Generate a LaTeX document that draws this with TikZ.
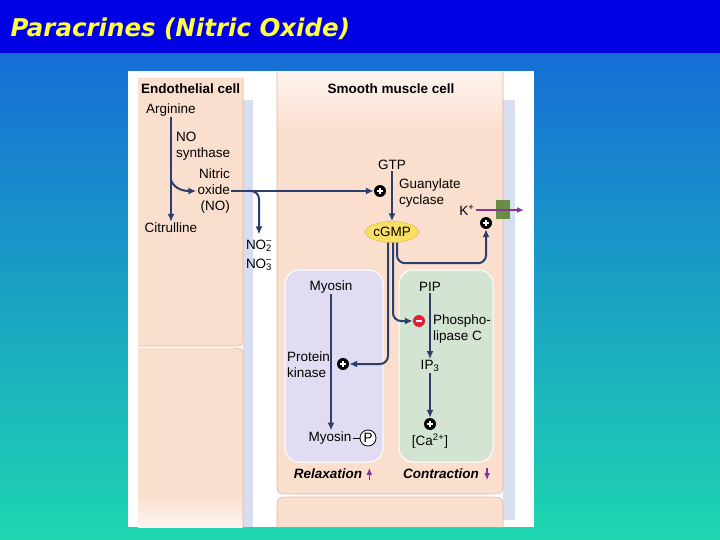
\documentclass[tikz,border=0pt]{standalone}
\usepackage{fontspec}
\setmainfont{Liberation Sans}
\newfontfamily\titlefont{DejaVu Sans}
\usetikzlibrary{arrows.meta, shapes.geometric}

\definecolor{slideblue}{RGB}{0,0,228}
\definecolor{titleyellow}{RGB}{255,255,64}
\definecolor{gradtop}{RGB}{22,110,214}
\definecolor{gradmid}{RGB}{30,190,230}
\definecolor{gradbot}{RGB}{30,214,176}
\definecolor{cellpeach}{RGB}{251,223,206}
\definecolor{cellline}{RGB}{226,182,160}
\definecolor{gapblue}{RGB}{214,222,240}
\definecolor{myosinbg}{RGB}{226,220,242}
\definecolor{plcbg}{RGB}{212,228,210}
\definecolor{pathnavy}{RGB}{44,62,108}
\definecolor{ionpurple}{RGB}{140,52,150}
\definecolor{channelgreen}{RGB}{104,142,70}
\definecolor{cgmpyellow}{RGB}{248,224,100}
\definecolor{cgmpedge}{RGB}{216,176,64}
\definecolor{inhibred}{RGB}{226,30,60}

\begin{document}
\begin{tikzpicture}[
        x=1pt, y=-1pt, >=Latex,
        lbl/.style={font=\fontsize{13.5}{16}\selectfont, inner sep=1pt, align=center},
        lblleft/.style={lbl, align=left, anchor=west},
        lblright/.style={lbl, align=right, anchor=east},
        celltitle/.style={lbl, font=\fontsize{13.5}{16}\selectfont\bfseries},
        effect/.style={lbl, font=\fontsize{13.5}{16}\selectfont\bfseries\itshape},
        signcirc/.style={circle, minimum size=12pt, inner sep=0pt},
        pluscirc/.style={signcirc, fill=black, path picture={
            \draw[white, line width=1.9pt]
                ([xshift=-3.2pt]path picture bounding box.center) -- ([xshift=3.2pt]path picture bounding box.center)
                ([yshift=-3.2pt]path picture bounding box.center) -- ([yshift=3.2pt]path picture bounding box.center);}},
        minuscirc/.style={signcirc, fill=inhibred, path picture={
            \draw[white, line width=1.9pt]
                ([xshift=-3.2pt]path picture bounding box.center) -- ([xshift=3.2pt]path picture bounding box.center);}},
        cellbody/.style={fill=cellpeach},
        celledge/.style={draw=cellline, line width=0.6pt},
        innerbox/.style={draw=white, line width=1pt, rounded corners=14pt},
        flow/.style={-{Latex[length=8pt, width=7pt]}, line width=2pt, draw=pathnavy, rounded corners=8pt},
        ionflow/.style={-{Latex[length=7pt, width=6pt]}, line width=1.5pt, draw=ionpurple}
    ]
        \useasboundingbox (0,0) rectangle (720,540);
        \fill[slideblue] (0,0) rectangle (720,54);
        \shade[top color=gradtop, middle color=gradmid, bottom color=gradbot] (0,54) rectangle (720,540);
        \fill[white] (128,71) rectangle (534,527);
        \fill[gapblue] (243,100) rectangle (253,527);
        \fill[gapblue] (503,100) rectangle (515,520);

        \fill[cellbody] (138,78) -- (243,78) -- (243,336) .. controls (243,346) .. (233,346) -- (138,346) -- cycle;
        \draw[celledge] (243,78) -- (243,336) .. controls (243,346) .. (233,346) -- (138,346);
        \fill[cellbody] (138,348) -- (233,348) .. controls (243,348) .. (243,358) -- (243,527) -- (138,527) -- cycle;
        \shade[top color=cellpeach, bottom color=cellpeach!30] (138,495) rectangle (242.7,527);
        \draw[celledge] (233,348) .. controls (243,348) .. (243,358) -- (243,527);
        \fill[cellbody] (277,72) -- (503,72) -- (503,480) .. controls (503,494) .. (489,494) -- (291,494) .. controls (277,494) .. (277,480) -- cycle;
        \shade[top color=cellpeach!35, bottom color=cellpeach] (277.3,72) rectangle (502.7,130);
        \draw[celledge] (277,72) -- (277,480) .. controls (277,494) .. (291,494) -- (489,494) .. controls (503,494) .. (503,480) -- (503,72);
        \filldraw[cellbody, celledge] (277,527) -- (277,511) .. controls (277,497) .. (291,497) -- (489,497) .. controls (503,497) .. (503,511) -- (503,527);

        \draw[innerbox, fill=myosinbg] (285,270) rectangle (383,462);
        \draw[innerbox, fill=plcbg] (399,270) rectangle (493,462);

        \node[anchor=base west, text=titleyellow, font=\titlefont\bfseries\itshape\fontsize{24.5}{28}\selectfont] (title) at (7,37) {Paracrines (Nitric Oxide)};

        \node[celltitle, anchor=west] (endotitle) at (140,89) {Endothelial cell};
        \node[celltitle] (smtitle) at (391,89) {Smooth muscle cell};

        \node[lbl] (arg) at (171,110) {Arginine};
        \node[lbl] (cit) at (171,228) {Citrulline};
        \node[lblleft] (nos) at (175,146) {NO\\synthase};
        \node[lblright] (no) at (231,191) {Nitric\\oxide\\(NO)};
        \node[lbl, font=\fontsize{13.5}{19}\selectfont] (nox) at (259,255) {NO\makebox[0pt][l]{\textsuperscript{--}}\textsubscript{2}\\NO\makebox[0pt][l]{\textsuperscript{--}}\textsubscript{3}};

        \node[lbl] (gtp) at (392,165) {GTP};
        \node[pluscirc] (gcplus) at (380,191) {};
        \node[lblleft] (gc) at (398,193) {Guanylate\\cyclase};
        \node[ellipse, draw=cgmpedge, fill=cgmpyellow, minimum width=46pt, minimum height=21pt, inner sep=0pt, font=\fontsize{13.5}{16}\selectfont] (cgmp) at (392,232) {cGMP};

        \node[fill=channelgreen, minimum width=14pt, minimum height=19pt, inner sep=0pt] (chan) at (503,210) {};
        \node[lbl] (kion) at (467,210) {K\textsuperscript{+}};
        \coordinate (kout) at (524,210);
        \node[pluscirc] (kplus) at (486,223) {};

        \node[lbl] (myo) at (331,287) {Myosin};
        \node[lblleft] (pk) at (286,365) {Protein\\kinase};
        \node[pluscirc] (pkplus) at (343,364) {};
        \node[lbl] (myop) at (330,438) {Myosin};
        \node[circle, draw=black, fill=white, line width=0.8pt, minimum size=16pt, inner sep=0pt, font=\fontsize{13.5}{16}\selectfont] (pcirc) at (368,438) {P};
        \node[effect] (relax) at (328,474) {Relaxation};

        \node[lbl] (pip) at (430,287) {PIP};
        \node[minuscirc] (plcminus) at (419,321) {};
        \node[lblleft] (plc) at (432,329) {Phospho-\\lipase C};
        \node[lbl] (ip3) at (430,366) {IP\textsubscript{3}};
        \node[pluscirc] (caplus) at (430,424) {};
        \node[lbl] (ca) at (430,441) {[Ca\textsuperscript{2+}]};
        \node[effect] (contr) at (441,474) {Contraction};

        \coordinate (nobranch) at (171,180);
        \coordinate (nosplit) at (248,191);

        \draw[flow] (arg) -- (cit);
        \draw[flow] (nobranch) to[out=-70, in=180] (no.west);
        \draw[flow] (no.east) -- (gcplus.west);
        \draw[flow] (nosplit) -| ([yshift=4pt]nox.north);
        \draw[flow] (gtp) -- (cgmp);
        \draw[flow] ([xshift=5pt]cgmp.south) |- ([yshift=-34pt]kplus.south) -- (kplus.south);
        \draw[flow] ([xshift=1pt]cgmp.south) |- (plcminus.west);
        \draw[flow] ([xshift=-4pt]cgmp.south) |- (pkplus.east);
        \draw[flow] (myo) -- (myo |- myop.north);
        \draw[line width=0.8pt] (myop.east) -- (pcirc.west);
        \draw[flow] (pip) -- (ip3);
        \draw[flow] (ip3) -- (caplus);
        \draw[ionflow] (kion.east) -- (kout);
        \draw[ionflow] ([xshift=6pt]relax.south east) -- ([xshift=6pt]relax.north east);
        \draw[ionflow] ([xshift=7pt]contr.north east) -- ([xshift=7pt]contr.south east);
    \end{tikzpicture}
\end{document}
